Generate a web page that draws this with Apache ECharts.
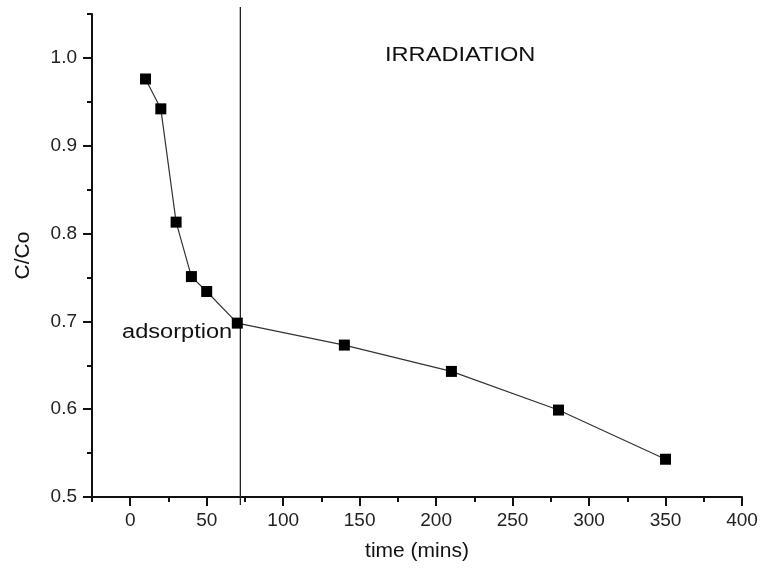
<!DOCTYPE html>
<html>
<head>
<meta charset="utf-8">
<script src="https://cdn.jsdelivr.net/npm/echarts@6/dist/echarts.min.js"></script>
<style>html,body{margin:0;padding:0;background:#fff}#c{width:761px;height:570px}</style>
</head>
<body>
<div id="c"></div>
<script>
var timeMins = [10, 20, 30, 40, 50, 70, 140, 210, 280, 350];
var ratioCCo = [0.976, 0.942, 0.813, 0.751, 0.734, 0.698, 0.673, 0.643, 0.599, 0.543];
var dividerX = 72;
var dividerYSpan = [0.491, 1.058];
var xTickLabels = [0, 50, 100, 150, 200, 250, 300, 350, 400];
var xMinorTicks = [-25, 25, 75, 125, 175, 225, 275, 325, 375];
var yTickLabels = [0.5, 0.6, 0.7, 0.8, 0.9, 1.0];
var yMinorTicks = [0.55, 0.65, 0.75, 0.85, 0.95, 1.05];

var chart = echarts.init(document.getElementById('c'));
var font = 'Liberation Sans, Arial, sans-serif';
var axisColor = '#111';
chart.setOption({
  animation: false,
  grid: {left: 92, right: 19, top: 14, bottom: 73},
  xAxis: [{
    type: 'value', min: -25, max: 400,
    name: 'time (mins)', nameLocation: 'middle', nameGap: 44,
    nameTextStyle: {fontFamily: font, fontSize: 21, color: '#111'},
    axisLine: {show: true, onZero: false, lineStyle: {color: axisColor, width: 2}},
    axisTick: {show: true, inside: false, length: 9, lineStyle: {color: axisColor, width: 2}, customValues: xTickLabels},
    axisLabel: {fontFamily: font, fontSize: 19, color: '#222', margin: 14, customValues: xTickLabels},
    splitLine: {show: false}
  }, {
    type: 'value', min: -25, max: 400, position: 'bottom',
    axisLine: {show: false, onZero: false},
    axisTick: {show: true, inside: false, length: 5, lineStyle: {color: axisColor, width: 2}, customValues: xMinorTicks},
    axisLabel: {show: false},
    splitLine: {show: false}
  }],
  yAxis: [{
    type: 'value', min: 0.5, max: 1.05,
    name: 'C/Co', nameLocation: 'middle', nameGap: 58, nameRotate: 90,
    nameTextStyle: {fontFamily: font, fontSize: 21, color: '#111'},
    axisLine: {show: true, onZero: false, lineStyle: {color: axisColor, width: 2}},
    axisTick: {show: true, inside: false, length: 9, lineStyle: {color: axisColor, width: 2}, customValues: yTickLabels},
    axisLabel: {fontFamily: font, fontSize: 19, color: '#222', margin: 15, customValues: yTickLabels,
      formatter: function (v) { return v.toFixed(1); }},
    splitLine: {show: false}
  }, {
    type: 'value', min: 0.5, max: 1.05, position: 'left', offset: 0,
    axisLine: {show: false, onZero: false},
    axisTick: {show: true, inside: false, length: 5, lineStyle: {color: axisColor, width: 2}, customValues: yMinorTicks},
    axisLabel: {show: false},
    splitLine: {show: false}
  }],
  series: [{
    type: 'line',
    data: timeMins.map(function (t, i) { return [t, ratioCCo[i]]; }),
    symbol: 'rect', symbolSize: 11,
    itemStyle: {color: '#000'},
    lineStyle: {color: '#333', width: 1.2}
  }, {
    type: 'line', clip: false, silent: true,
    data: [[dividerX, dividerYSpan[0]], [dividerX, dividerYSpan[1]]],
    symbol: 'none',
    lineStyle: {color: '#222', width: 1.3}
  }],
  graphic: [{
    type: 'text', left: 385, top: 45, scaleX: 1.18,
    style: {text: 'IRRADIATION', fontFamily: font, fontSize: 20, fill: '#111'}
  }, {
    type: 'text', left: 122, top: 322, scaleX: 1.18,
    style: {text: 'adsorption', fontFamily: font, fontSize: 20, fill: '#111'}
  }]
});
</script>
</body>
</html>
